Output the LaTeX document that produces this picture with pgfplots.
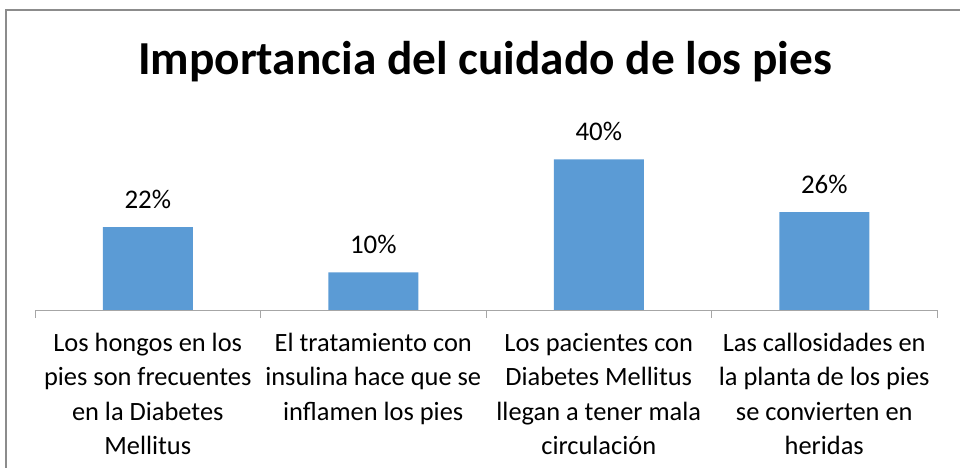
\documentclass[border=0pt]{standalone}
\usepackage{pgfplots}
\pgfplotsset{compat=1.18}
\usepackage{fontspec}
\setmainfont{Carlito}
\definecolor{barblue}{HTML}{5B9BD5}
\definecolor{framegray}{HTML}{8C8C8C}
\definecolor{axisgray}{HTML}{A6A6A6}
\begin{document}
\begin{tikzpicture}
\useasboundingbox (0,0) rectangle (960bp,468bp);
\draw[framegray, line width=1.2bp] (6bp,0) -- (6bp,458bp) -- (960bp,458bp);
\node[anchor=base, font=\fontsize{47.5}{54}\selectfont\bfseries] at (485bp,393bp) {Importancia del cuidado de los pies};
\begin{axis}[
  at={(35bp,158bp)}, anchor=south west,
  scale only axis, width=902bp, height=207bp,
  xmin=-0.5, xmax=3.5, ymin=0, ymax=55,
  axis x line*=bottom, axis y line=none,
  axis line style={axisgray, line width=1bp},
  x axis line style={-},
  xtick={0,1,2,3},
  xticklabels={{Los hongos en los\\pies son frecuentes\\en la Diabetes\\Mellitus},
    {El tratamiento con\\insulina hace que se\\inflamen los pies},
    {Los pacientes con\\Diabetes Mellitus\\llegan a tener mala\\circulación},
    {Las callosidades en\\la planta de los pies\\se convierten en\\heridas}},
  xticklabel style={align=center, font=\fontsize{26.5}{34.5}\selectfont, inner sep=0pt, anchor=north, yshift=-23bp},
  major tick length=0pt,
  minor xtick={-0.5,0.5,1.5,2.5,3.5},
  minor tick length=8bp,
  tick align=outside,
  tick style={axisgray, line width=1bp},
  ybar, bar width=90bp,
  /pgf/number format/assume math mode=true,
  nodes near coords={\pgfmathprintnumber{\pgfplotspointmeta}\%},
  point meta=y,
  every node near coord/.style={anchor=base, yshift=19bp, inner sep=0pt, font=\fontsize{27}{30}\selectfont, black},
]
\addplot[fill=barblue, draw=none] coordinates {(0,22) (1,10) (2,40) (3,26)};
\end{axis}
\end{tikzpicture}
\end{document}
